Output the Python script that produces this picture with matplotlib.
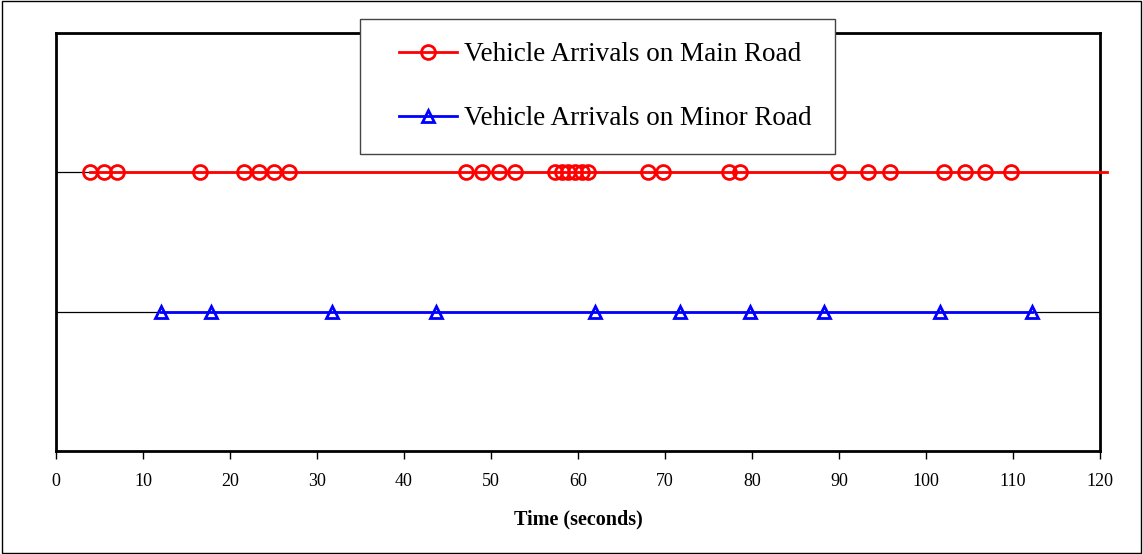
import numpy as np
import matplotlib.pyplot as plt
from matplotlib.patches import Rectangle
from matplotlib.legend_handler import HandlerLine2D

plt.rcParams['font.family'] = ['Liberation Serif', 'DejaVu Serif']

# arrival times (seconds)
main_arrivals = [3.9, 5.5, 7.0, 16.6, 21.6, 23.3, 25.1, 26.8, 47.1, 49.0, 50.9, 52.8,
                 57.4, 58.2, 58.9, 59.7, 60.5, 61.1, 68.0, 69.8, 77.4, 78.6,
                 89.9, 93.3, 95.9, 102.1, 104.5, 106.8, 109.8]
main_end = 120.8
minor_arrivals = [12.1, 17.8, 31.7, 43.7, 62.0, 71.7, 79.8, 88.3, 101.6, 112.2]
main_level = 2
minor_level = 1
xticks = list(range(0, 121, 10))


class OffsetLine(HandlerLine2D):
    # leave some blank space before the legend line, like the original
    def get_xdata(self, legend, xdescent, ydescent, width, height, fontsize):
        off = 11.5
        xdata = np.array([-xdescent + off, -xdescent + width])
        return xdata, np.array([xdata.mean()])


fig = plt.figure(figsize=(11.43, 5.54), dpi=100)
ax = fig.add_axes([56 / 1143, 1 - 451 / 554, 1044 / 1143, 418 / 554])

ax.plot(main_arrivals + [main_end], [main_level] * (len(main_arrivals) + 1),
        color='red', lw=2, marker='o', ms=10, mfc='none', mec='red', mew=2,
        markevery=list(range(len(main_arrivals))), clip_on=False,
        label='Vehicle Arrivals on Main Road', zorder=3)
ax.plot(minor_arrivals, [minor_level] * len(minor_arrivals),
        color='blue', lw=2, marker='^', ms=9, mfc='none', mec='blue', mew=2,
        label='Vehicle Arrivals on Minor Road', zorder=3)

ax.set_xlim(0, 120)
ax.set_ylim(0, 3)
ax.set_xticks(xticks)
ax.set_yticks([1, 2, 3])
ax.yaxis.grid(True, color='black', lw=0.9)
ax.tick_params(axis='y', left=False, labelleft=False)
ax.tick_params(axis='x', direction='out', length=6, width=1, labelsize=13, pad=10)
for s in ax.spines.values():
    s.set_linewidth(2)
    s.set_clip_on(False)
ax.set_xlabel('Time (seconds)', fontsize=14.5, fontweight='bold', labelpad=14)

leg = ax.legend(loc='upper left', bbox_to_anchor=(360 / 1143, 1 - 19 / 554),
                bbox_transform=fig.transFigure, fontsize=19.5, frameon=True,
                fancybox=False, edgecolor='#444444', framealpha=1,
                borderpad=0.86, labelspacing=1.43, handlelength=2.72,
                handletextpad=0.26, borderaxespad=0,
                handler_map={plt.Line2D: OffsetLine(numpoints=1)})
leg.get_frame().set_linewidth(1)
leg.set_zorder(5)

fig.patches.append(Rectangle((0.002, 0.002), 0.996, 0.996, transform=fig.transFigure,
                             fill=False, edgecolor='black', lw=1))

fig.savefig('out.png', dpi=100)
